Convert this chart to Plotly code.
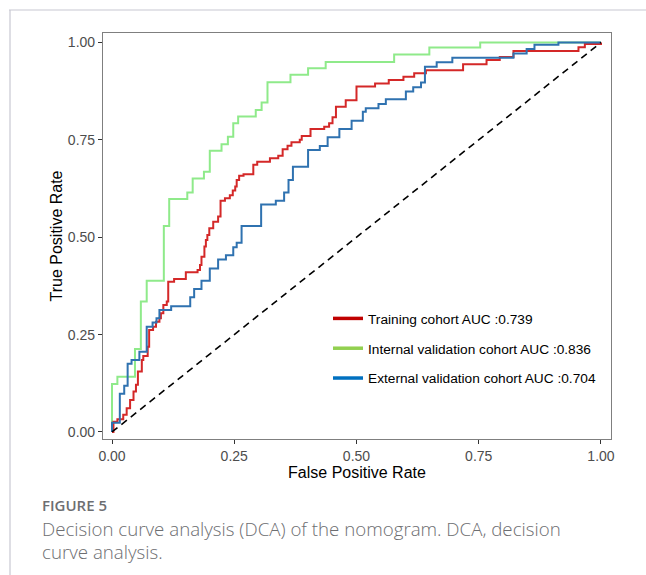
import plotly.graph_objects as go

# ---- data ----
train_fpr = [0, 0.003, 0.011, 0.023, 0.030, 0.037, 0.044, 0.049, 0.053, 0.061,
             0.064, 0.073, 0.076, 0.084, 0.090, 0.097, 0.100, 0.105, 0.112, 0.115,
             0.127, 0.151, 0.175, 0.180, 0.183, 0.189, 0.192, 0.195, 0.199, 0.207,
             0.217, 0.222, 0.231, 0.241, 0.247, 0.252, 0.255, 0.260, 0.269, 0.289,
             0.297, 0.323, 0.340, 0.349, 0.359, 0.367, 0.384, 0.388, 0.406, 0.434,
             0.444, 0.451, 0.458, 0.478, 0.500, 0.538, 0.566, 0.596, 0.618, 0.642,
             0.718, 0.766, 0.793, 0.821, 0.954, 0.967, 1.0]
train_tpr = [0, 0.026, 0.033, 0.044, 0.061, 0.082, 0.104, 0.121, 0.155, 0.185,
             0.195, 0.219, 0.262, 0.270, 0.283, 0.292, 0.305, 0.326, 0.335, 0.386,
             0.393, 0.410, 0.416, 0.429, 0.450, 0.476, 0.493, 0.506, 0.523, 0.540,
             0.553, 0.594, 0.600, 0.608, 0.620, 0.630, 0.647, 0.658, 0.662, 0.686,
             0.694, 0.703, 0.709, 0.726, 0.735, 0.744, 0.750, 0.760, 0.778, 0.784,
             0.793, 0.808, 0.835, 0.852, 0.887, 0.895, 0.904, 0.912, 0.921, 0.929,
             0.944, 0.955, 0.963, 0.978, 0.988, 0.996, 1.0]

int_fpr = [0, 0, 0.011, 0.047, 0.059, 0.071, 0.106, 0.117, 0.154, 0.165,
           0.188, 0.200, 0.224, 0.237, 0.248, 0.258, 0.294, 0.306, 0.318, 0.365,
           0.401, 0.437, 0.577, 0.649, 0.753, 1.0]
int_tpr = [0, 0.123, 0.142, 0.213, 0.335, 0.388, 0.529, 0.598, 0.615, 0.651,
           0.668, 0.722, 0.739, 0.758, 0.793, 0.810, 0.827, 0.846, 0.898, 0.917,
           0.934, 0.950, 0.969, 0.987, 1.0, 1.0]

ext_fpr = [0, 0, 0.016, 0.025, 0.032, 0.040, 0.056, 0.071, 0.083, 0.091,
           0.097, 0.121, 0.160, 0.168, 0.183, 0.200, 0.217, 0.233, 0.248, 0.255,
           0.265, 0.305, 0.335, 0.352, 0.361, 0.370, 0.401, 0.425, 0.441, 0.465,
           0.490, 0.513, 0.519, 0.545, 0.560, 0.601, 0.616, 0.632, 0.640, 0.664,
           0.696, 0.821, 0.848, 0.864, 0.913, 1.0]
ext_tpr = [0, 0.024, 0.098, 0.119, 0.175, 0.185, 0.206, 0.270, 0.281, 0.292,
           0.313, 0.323, 0.346, 0.367, 0.388, 0.420, 0.443, 0.454, 0.474, 0.486,
           0.529, 0.584, 0.594, 0.615, 0.647, 0.681, 0.724, 0.734, 0.757, 0.778,
           0.799, 0.822, 0.831, 0.842, 0.854, 0.874, 0.885, 0.897, 0.938, 0.949,
           0.961, 0.972, 0.983, 0.994, 1.0, 1.0]

legend_names = ["Training cohort AUC :0.739",
                "Internal validation cohort AUC :0.836",
                "External validation cohort AUC :0.704"]
tick_vals = [0, 0.25, 0.5, 0.75, 1.0]
tick_text = ["0.00", "0.25", "0.50", "0.75", "1.00"]

curve_colors = ["#D42828", "#8FEA8A", "#2F72B0"]
legend_colors = ["#C00000", "#92D050", "#0070C0"]

AX_FONT = "Liberation Sans, Arial, sans-serif"
CAP_FONT = "Open Sans, Noto Sans, sans-serif"

fig = go.Figure()

series = [(train_fpr, train_tpr), (int_fpr, int_tpr), (ext_fpr, ext_tpr)]
for idx in [1, 0, 2]:
    xs, ys = series[idx]
    fig.add_trace(go.Scatter(x=xs, y=ys, mode="lines", line_shape="hv",
                             line=dict(color=curve_colors[idx], width=2),
                             showlegend=False, hoverinfo="skip"))

# reference diagonal
fig.add_trace(go.Scatter(x=[0, 1], y=[0, 1], mode="lines",
                         line=dict(color="black", width=1.6, dash="7px,5px"),
                         showlegend=False, hoverinfo="skip"))

# legend entries
for i, name in enumerate(legend_names):
    fig.add_trace(go.Scatter(x=[None], y=[None], mode="lines", name=name,
                             legendgroup=f"g{i}",
                             line=dict(color=legend_colors[i], width=3.5)))

W, H = 646, 575
L, R, T, B = 103, 611, 33, 439


def px2paper_x(px):
    return (px - L) / (R - L)


def px2paper_y(py):
    return (B - py) / (B - T)


fig.update_layout(
    width=W, height=H,
    margin=dict(l=L, r=W - R, t=T, b=H - B, pad=0),
    paper_bgcolor="white", plot_bgcolor="white",
    font=dict(family=AX_FONT, color="black"),
    legend=dict(x=px2paper_x(328), y=px2paper_y(303), xanchor="left", yanchor="top",
                font=dict(family=AX_FONT, size=13.7, color="black"),
                bgcolor="rgba(0,0,0,0)", tracegroupgap=9, itemwidth=30),
    xaxis=dict(range=[-0.0184, 1.0205], tickvals=tick_vals, ticktext=tick_text,
               showgrid=False, zeroline=False, showline=True, mirror=True,
               linecolor="#7f7f7f", linewidth=1.2,
               ticks="outside", ticklen=4, tickcolor="#333333", tickwidth=1,
               tickfont=dict(size=14, color="#4d4d4d", family=AX_FONT),
               title=dict(text="False Positive Rate", standoff=2,
                          font=dict(size=16, color="black", family=AX_FONT)),
               automargin=False),
    yaxis=dict(range=[-0.018, 1.0244], tickvals=tick_vals, ticktext=tick_text,
               showgrid=False, zeroline=False, showline=True, mirror=True,
               linecolor="#7f7f7f", linewidth=1.2,
               ticks="outside", ticklen=4, tickcolor="#333333", tickwidth=1,
               tickfont=dict(size=14, color="#4d4d4d", family=AX_FONT),
               title=dict(text="True Positive Rate", standoff=1,
                          font=dict(size=16, color="black", family=AX_FONT)),
               automargin=False),
)

# page frame lines (card border)
fig.add_shape(type="line", xref="paper", yref="paper",
              x0=px2paper_x(9), x1=px2paper_x(650), y0=px2paper_y(10), y1=px2paper_y(10),
              line=dict(color="#c8c8d2", width=1.2))
fig.add_shape(type="line", xref="paper", yref="paper",
              x0=px2paper_x(10), x1=px2paper_x(10), y0=px2paper_y(10), y1=px2paper_y(580),
              line=dict(color="#c8c8d2", width=1.2))

# caption
fig.add_annotation(xref="paper", yref="paper", x=px2paper_x(40), y=px2paper_y(505),
                   xanchor="left", yanchor="middle", showarrow=False,
                   text="FIGURE 5",
                   font=dict(family=CAP_FONT, size=15, color="#6d6e71", weight=600))
fig.add_annotation(xref="paper", yref="paper", x=px2paper_x(40), y=px2paper_y(528),
                   xanchor="left", yanchor="middle", showarrow=False, align="left",
                   text="Decision curve analysis (DCA) of the nomogram. DCA, decision",
                   font=dict(family=CAP_FONT, size=18.7, color="#6d6e71", weight=300))
fig.add_annotation(xref="paper", yref="paper", x=px2paper_x(40), y=px2paper_y(551),
                   xanchor="left", yanchor="middle", showarrow=False, align="left",
                   text="curve analysis.",
                   font=dict(family=CAP_FONT, size=18.7, color="#6d6e71", weight=300))

fig.write_html("out.html")
